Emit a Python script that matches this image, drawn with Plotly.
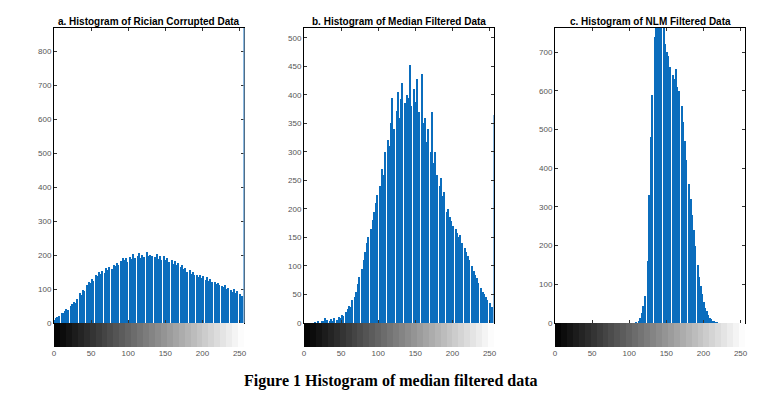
import plotly.graph_objects as go

# ---------------- data ----------------
bin_centers = list(range(1, 256, 2))  # 128 bins of width 2 over 0..256

rician_counts = [
    8, 14, 18, 22, 0, 30, 28, 36, 40, 38, 0, 50, 55, 62, 58, 72,
    0, 88, 82, 98, 95, 0, 112, 120, 118, 130, 125, 0, 140, 138, 150, 145,
    152, 0, 148, 162, 155, 165, 0, 160, 170, 168, 178, 172, 0, 182, 192, 185,
    190, 180, 0, 195, 188, 202, 192, 0, 198, 205, 190, 200, 195, 0, 210, 196,
    200, 192, 198, 0, 195, 202, 188, 196, 185, 0, 198, 186, 192, 180, 0, 185,
    175, 182, 170, 176, 0, 165, 172, 160, 162, 150, 0, 155, 145, 150, 140, 0,
    142, 135, 140, 132, 138, 0, 128, 135, 125, 130, 120, 0, 122, 115, 118, 112,
    0, 110, 105, 112, 100, 104, 0, 98, 92, 100, 88, 95, 0, 85, 78, 72,
]

median_counts = [
    0, 0, 0, 0, 0, 0, 0, 1, 0, 2, 0, 0, 3, 2, 8, 5,
    0, 4, 7, 3, 9, 0, 6, 10, 8, 14, 12, 0, 20, 24, 30, 28,
    40, 0, 45, 55, 68, 80, 0, 95, 110, 125, 140, 150, 0, 165, 180, 195,
    210, 225, 0, 240, 270, 260, 300, 0, 320, 310, 350, 395, 340, 0, 372, 405,
    360, 392, 420, 0, 385, 400, 395, 452, 380, 0, 410, 388, 428, 370, 0, 437,
    350, 360, 318, 340, 0, 300, 370, 280, 300, 260, 0, 240, 255, 222, 230, 0,
    195, 200, 185, 178, 170, 0, 165, 158, 150, 155, 140, 0, 132, 125, 118, 110,
    0, 100, 92, 85, 78, 70, 0, 62, 55, 50, 45, 40, 0, 35, 28, 22,
]

nlm_counts = [
    0, 0, 0, 0, 0, 0, 0, 0, 0, 0, 0, 0, 0, 0, 0, 0,
    0, 0, 0, 0, 0, 0, 0, 0, 0, 0, 0, 0, 0, 0, 0, 0,
    0, 0, 0, 0, 0, 0, 0, 0, 0, 0, 0, 0, 0, 0, 0, 0,
    0, 0, 0, 0, 0, 0, 1, 0, 4, 12, 25, 45, 70, 0, 160, 330,
    480, 590, 0, 740, 800, 820, 810, 790, 0, 800, 720, 700, 690, 660, 0, 640,
    630, 655, 610, 600, 0, 560, 520, 470, 420, 0, 360, 320, 280, 240, 200, 0,
    150, 120, 95, 75, 55, 40, 30, 20, 14, 10, 6, 4, 2, 1, 0, 0,
    0, 0, 0, 0, 0, 0, 0, 0, 0, 0, 0, 0, 0, 0, 0, 0,
]

# count in the last (saturated) intensity level 255
saturated_counts = [1000, 365, 0]

titles = [
    "a. Histogram of Rician Corrupted Data",
    "b. Histogram of Median Filtered Data",
    "c. Histogram of NLM Filtered Data",
]
y_max = [868, 517, 762]
y_ticks = [
    [0, 100, 200, 300, 400, 500, 600, 700, 800],
    [0, 50, 100, 150, 200, 250, 300, 350, 400, 450, 500],
    [0, 100, 200, 300, 400, 500, 600, 700],
]
x_ticks = [0, 50, 100, 150, 200, 250]
gray_levels = list(range(4, 256, 8))  # 32-step gray strip
caption = "Figure 1 Histogram of median filtered data"

# ---------------- layout ----------------
OFF = 8                     # page body margin
W, H = 771 - 2 * OFF, 398 - 2 * OFF
panel_x = [(54, 244), (304, 494), (555, 745)]   # window pixels
hist_top, zero_px, strip_bottom = 28, 323, 347  # window pixels


def fx(px):
    return (px - OFF) / W


def fy(py):
    return 1 - (py - OFF) / H


BAR = "#0b6dbd"
SAT = "#8ab8e0"
TICKF = dict(family="Liberation Sans, Arial, sans-serif", size=8, color="#555555")

fig = go.Figure()
series = [rician_counts, median_counts, nlm_counts]

layout = dict(
    width=W, height=H, margin=dict(l=0, r=0, t=0, b=0, autoexpand=False),
    paper_bgcolor="white", plot_bgcolor="white",
    showlegend=False, bargap=0, barmode="overlay",
)
annotations = []
shapes = []

for k in range(3):
    hx = 2 * k + 1
    sx = 2 * k + 2
    hxn = "x" if hx == 1 else f"x{hx}"
    hyn = "y" if hx == 1 else f"y{hx}"
    sxn = f"x{sx}"
    syn = f"y{sx}"
    x0, x1 = panel_x[k]
    dom = [fx(x0), fx(x1)]

    fig.add_trace(go.Bar(
        x=bin_centers, y=series[k], width=2,
        marker=dict(color=BAR, line=dict(width=0)),
        xaxis=hxn, yaxis=hyn, hoverinfo="skip",
    ))
    if saturated_counts[k] > 0:
        fig.add_trace(go.Bar(
            x=[255.5], y=[saturated_counts[k]], width=1,
            marker=dict(color=SAT, line=dict(width=0)),
            xaxis=hxn, yaxis=hyn, hoverinfo="skip",
        ))
    fig.add_trace(go.Heatmap(
        z=[gray_levels], x=gray_levels, y=[0],
        zmin=0, zmax=255, colorscale=[[0, "black"], [1, "white"]],
        showscale=False, xaxis=sxn, yaxis=syn, hoverinfo="skip",
    ))

    hxkey = "xaxis" if hx == 1 else f"xaxis{hx}"
    hykey = "yaxis" if hx == 1 else f"yaxis{hx}"
    layout[hxkey] = dict(
        domain=dom, range=[0, 256], anchor=hyn, automargin=False,
        tickvals=x_ticks, showticklabels=False,
        ticks="inside", ticklen=3, tickcolor="#333333",
        showline=True, linecolor="black", linewidth=1, mirror="ticks",
        showgrid=False, zeroline=False,
    )
    layout[hykey] = dict(
        domain=[fy(zero_px), fy(hist_top)], range=[0, y_max[k]],
        anchor=hxn, tickvals=y_ticks[k], tickfont=TICKF, automargin=False,
        ticks="inside", ticklen=3, tickcolor="#333333",
        showline=True, linecolor="black", linewidth=1, mirror="ticks",
        showgrid=False, zeroline=False,
    )
    layout[f"xaxis{sx}"] = dict(
        domain=dom, range=[0, 256], anchor=syn, automargin=False,
        tickvals=x_ticks, tickfont=TICKF, ticks="",
        showline=False, showgrid=False, zeroline=False,
    )
    layout[f"yaxis{sx}"] = dict(
        domain=[fy(strip_bottom), fy(zero_px)], range=[-0.5, 0.5],
        anchor=sxn, showticklabels=False, ticks="", automargin=False,
        showline=False, showgrid=False, zeroline=False,
    )
    annotations.append(dict(
        text=f"<b>{titles[k]}</b>", x=fx((x0 + x1) / 2), y=fy(21),
        xref="paper", yref="paper", showarrow=False,
        font=dict(family="Liberation Sans, Arial, sans-serif", size=10, color="black"),
        xanchor="center", yanchor="middle",
    ))

# right border of panel a appears light blue (saturated bin)
shapes.append(dict(type="line", xref="x domain", yref="y domain",
                   x0=1, x1=1, y0=0, y1=1, line=dict(color=SAT, width=1.2),
                   layer="above"))

annotations.append(dict(
    text=f"<b>{caption}</b>", x=fx(391), y=fy(381), xref="paper", yref="paper",
    showarrow=False, xanchor="center", yanchor="middle",
    font=dict(family="Liberation Serif, Times New Roman, serif", size=16, color="black"),
))

layout["annotations"] = annotations
layout["shapes"] = shapes
fig.update_layout(**layout)
fig.write_html("out.html")
